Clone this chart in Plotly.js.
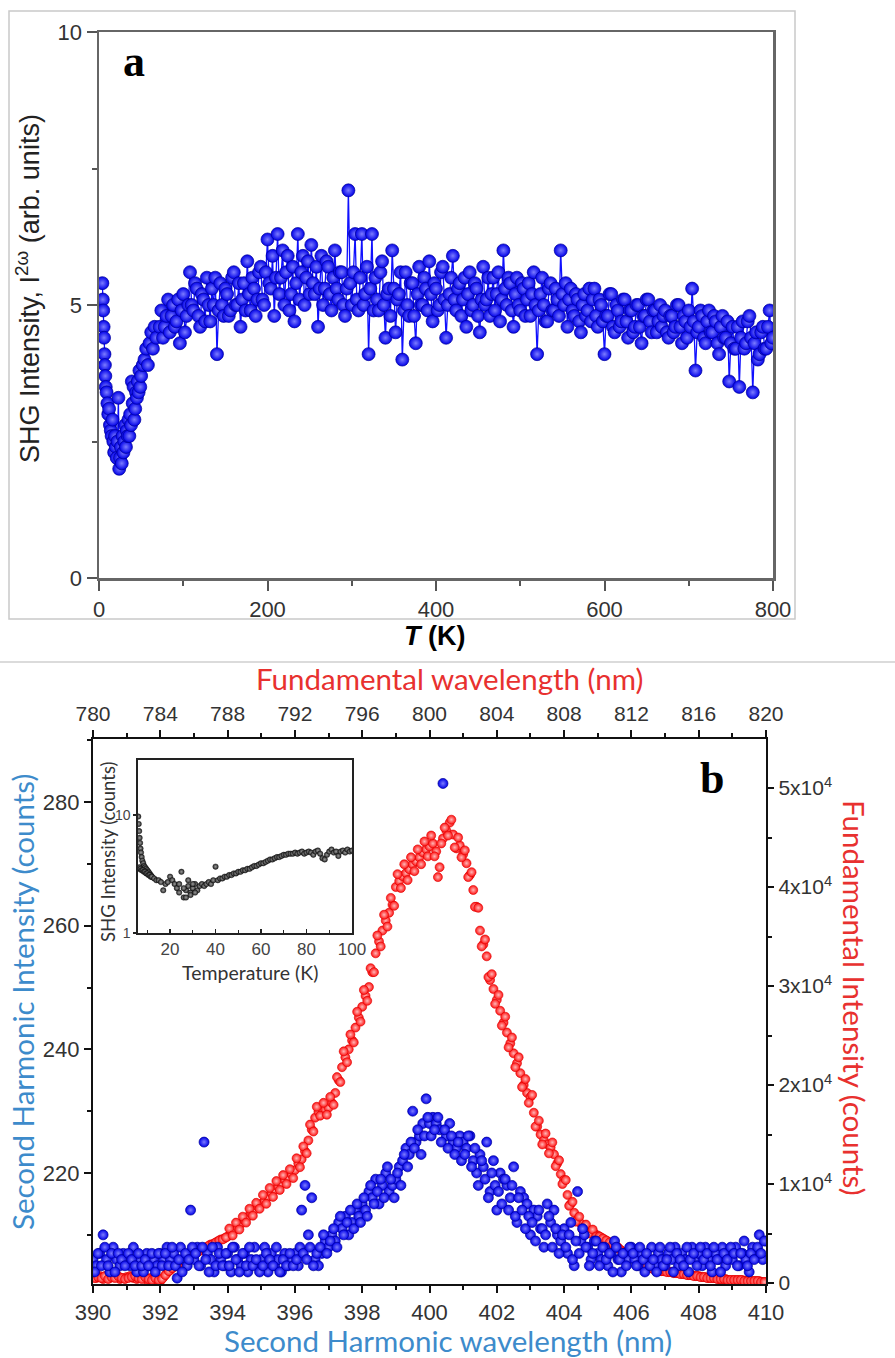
<!DOCTYPE html>
<html>
<head>
<meta charset="utf-8">
<script src="https://cdn.plot.ly/plotly-3.0.1.min.js"></script>
<style>html,body{margin:0;padding:0;background:#fff;}#chart{width:895px;height:1358px;}</style>
</head>
<body>
<div id="chart"></div>
<script>
// ---------- Panel a: SHG intensity vs temperature ----------
const tempA = [4,4.5,5,5.5,6,6.5,7,7.5,8,
  9,10,11,12,13,14,15,16,17,18,
  19,20,21,22,23,24,25,26,27,28,
  29,30,31,32,33,34,35,36,37,38,
  39,40,41,42,43,44,45,46,47,48,
  49,50,52,54,56,58,60,62,64,66,68,
  72,74,76,78,80,82,84,86,88,90,
  92,94,96,98,100,102,104,106,108,110,
  112,114,116,118,120,122,124,126,128,130,
  132,134,136,138,140,142,144,146,148,150,
  152,154,156,158,160,162,164,166,168,170,
  172,174,176,178,180,182,184,186,188,190,
  192,194,196,198,200,202,204,206,208,210,
  212,214,216,218,220,222,224,226,228,230,
  232,234,236,238,240,242,244,246,248,250,
  252,254,256,258,260,262,264,266,268,270,
  272,274,276,278,280,282,284,286,288,290,
  292,294,296,298,300,302,304,306,308,310,
  312,314,316,318,320,322,324,326,328,330,
  332,334,336,338,340,342,344,346,348,350,
  352,354,356,358,360,362,364,366,368,370,
  372,374,376,378,380,382,384,386,388,390,
  392,394,396,398,400,402,404,406,408,410,
  412,414,416,418,420,422,424,426,428,430,
  432,434,436,438,440,442,444,446,448,450,
  452,454,456,458,460,462,464,466,468,470,
  472,474,476,478,480,482,484,486,488,490,
  492,494,496,498,500,502,504,506,508,510,
  512,514,516,518,520,522,524,526,528,530,
  532,534,536,538,540,542,544,546,548,550,
  552,554,556,558,560,562,564,566,568,570,
  572,574,576,578,580,582,584,586,588,590,
  592,594,596,598,600,602,604,606,608,610,
  612,614,616,618,620,622,624,626,628,630,
  632,634,636,638,640,642,644,646,648,650,
  652,654,656,658,660,662,664,666,668,670,
  672,674,676,678,680,682,684,686,688,690,
  692,694,696,698,700,702,704,706,708,710,
  712,714,716,718,720,722,724,726,728,730,
  732,734,736,738,740,742,744,746,748,750,
  752,754,756,758,760,762,764,766,768,770,
  772,774,776,778,780,782,784,786,788,790,
  792,794,796,798,800];
const shgA = [5.4,5.1,4.9,4.6,4.4,4.1,3.9,3.7,3.5,
  3.4,3.2,3.0,3.1,2.8,2.7,2.6,2.9,2.5,2.3,
  2.6,2.4,2.2,2.5,3.3,2.0,2.2,2.4,2.1,2.6,
  2.3,2.5,2.8,2.4,2.7,2.6,2.9,2.6,3.0,2.8,
  3.6,3.2,3.5,2.9,3.1,3.4,3.3,3.6,3.4,3.8,
  3.5,3.7,3.9,4.0,4.2,3.9,4.3,4.5,4.2,4.6,4.4,
  4.6,4.9,4.4,4.6,4.8,5.1,4.5,4.8,5.0,4.6,
  4.7,5.1,4.3,4.9,5.2,4.5,4.8,5.0,5.6,5.0,
  4.9,5.4,5.3,4.8,4.6,5.2,5.1,4.7,5.5,5.0,
  4.7,5.3,5.0,5.5,4.1,4.9,5.4,5.0,4.8,5.3,
  5.2,4.8,4.9,5.5,5.6,5.0,5.0,5.4,4.6,5.1,
  5.4,4.9,5.8,5.2,4.9,5.5,5.3,4.8,5.1,5.6,
  5.7,5.1,5.0,5.6,6.2,5.4,5.3,5.9,4.8,5.5,
  6.3,5.2,5.5,6.0,5.0,5.6,5.9,4.9,5.2,5.7,
  4.7,5.4,6.3,5.1,5.6,5.9,5.0,5.5,5.8,5.2,
  6.1,5.4,5.2,5.7,4.6,5.3,5.9,5.0,5.3,5.8,
  5.7,5.2,4.9,5.5,6.0,5.3,5.1,5.6,5.6,5.0,
  4.8,5.3,7.1,5.4,5.0,5.6,6.3,5.1,4.9,5.5,
  6.3,5.0,5.2,5.7,4.1,5.3,6.3,4.9,5.5,5.1,
  4.9,5.6,5.8,5.0,4.4,5.2,5.3,4.8,6.0,5.3,
  4.5,5.1,5.2,5.6,4.0,4.9,5.6,5.0,4.8,5.4,
  5.4,4.8,4.3,5.2,5.7,5.0,5.0,5.5,5.3,4.9,
  5.8,5.2,4.7,5.4,5.3,4.9,5.0,5.6,5.7,5.1,
  4.4,5.0,5.2,5.5,5.9,5.1,4.9,5.3,5.4,4.8,
  5.1,5.5,4.6,5.2,5.6,4.9,5.0,5.4,5.3,4.8,
  4.5,5.1,5.7,5.0,5.1,5.5,4.8,5.2,5.5,4.9,
  5.2,5.6,4.7,5.1,6.0,5.3,5.0,5.5,5.4,4.9,
  4.6,5.2,5.5,5.0,4.9,5.4,5.3,4.8,5.1,5.4,
  4.8,5.2,5.6,5.0,4.1,4.9,5.2,5.5,5.0,4.7,
  4.7,5.3,5.4,4.9,4.9,5.3,5.1,4.8,6.0,5.2,
  5.0,5.4,4.6,5.1,5.3,4.9,4.8,5.2,5.1,4.7,
  4.5,5.0,5.2,4.8,4.9,5.3,4.7,5.1,5.3,4.8,
  4.6,5.1,5.0,4.7,4.1,4.8,4.8,5.2,5.2,4.6,
  4.5,5.0,4.9,4.6,4.7,5.1,5.1,4.7,4.4,4.9,
  4.9,4.5,4.6,5.0,5.0,4.6,4.3,4.8,4.8,5.1,
  5.1,4.7,4.5,4.9,4.9,4.5,4.7,5.0,4.6,4.8,
  4.9,4.5,4.4,4.8,4.8,4.5,4.6,5.0,5.0,4.6,
  4.3,4.8,4.7,4.4,4.9,4.6,5.3,4.7,3.8,4.5,
  4.6,4.9,4.8,4.4,4.3,4.7,4.9,4.5,4.5,4.8,
  4.7,4.3,4.1,4.6,4.8,4.4,4.4,4.7,3.6,4.3,
  4.6,4.2,4.2,4.6,3.5,4.4,4.7,4.2,4.3,4.7,
  4.8,4.4,3.4,4.3,4.5,4.0,4.1,4.5,4.6,4.2,
  4.2,4.6,4.9,4.3,4.4];
const aXTicks = [0,200,400,600,800];
const aYTicks = [0,5,10];

// ---------- Panel b: wavelength scans ----------
const shWavelength = [
  390.0,390.1,390.2,390.3,390.4,390.5,390.6,390.7,390.8,390.9,
  391.0,391.1,391.2,391.3,391.4,391.5,391.6,391.7,391.8,391.9,
  392.0,392.1,392.2,392.3,392.4,392.5,392.6,392.7,392.8,392.9,
  393.0,393.1,393.2,393.3,393.4,393.5,393.6,393.7,393.8,393.9,
  394.0,394.1,394.2,394.3,394.4,394.5,394.6,394.7,394.8,394.9,
  395.0,395.1,395.2,395.3,395.4,395.5,395.6,395.7,395.8,395.9,
  396.0,396.1,396.2,396.3,396.4,396.5,396.6,396.7,396.8,396.9,
  397.0,397.1,397.2,397.3,397.4,397.5,397.6,397.7,397.8,397.9,
  398.0,398.1,398.2,398.3,398.4,398.5,398.6,398.7,398.8,398.9,
  399.0,399.1,399.2,399.3,399.4,399.5,399.6,399.7,399.8,399.9,
  400.0,400.1,400.2,400.3,400.4,400.5,400.6,400.7,400.8,400.9,
  401.0,401.1,401.2,401.3,401.4,401.5,401.6,401.7,401.8,401.9,
  402.0,402.1,402.2,402.3,402.4,402.5,402.6,402.7,402.8,402.9,
  403.0,403.1,403.2,403.3,403.4,403.5,403.6,403.7,403.8,403.9,
  404.0,404.1,404.2,404.3,404.4,404.5,404.6,404.7,404.8,404.9,
  405.0,405.1,405.2,405.3,405.4,405.5,405.6,405.7,405.8,405.9,
  406.0,406.1,406.2,406.3,406.4,406.5,406.6,406.7,406.8,406.9,
  407.0,407.1,407.2,407.3,407.4,407.5,407.6,407.7,407.8,407.9,
  408.0,408.1,408.2,408.3,408.4,408.5,408.6,408.7,408.8,408.9,
  409.0,409.1,409.2,409.3,409.4,409.5,409.6,409.7,409.8,409.9,
  410.0];
const shIntensity = [
  206,205,207,210,206,204,208,206,205,207,
  206,205,208,204,206,204,207,205,206,205,
  207,206,208,206,207,203,208,206,205,214,
  206,208,205,225,207,206,204,208,206,205,
  207,204,208,206,205,207,204,206,208,205,
  206,208,204,207,205,206,204,207,205,206,
  207,205,214,218,210,216,206,205,207,209,
  208,210,209,212,211,213,210,212,214,213,
  215,214,217,216,219,215,218,220,217,218,
  219,221,222,224,223,230,225,226,228,232,
  228,229,228,227,283,226,228,225,224,226,
  225,224,226,222,220,223,221,225,217,222,
  214,220,219,218,216,221,212,217,216,215,
  210,214,213,211,208,215,212,214,210,209,
  211,207,212,205,217,209,210,208,206,209,
  207,206,208,205,207,209,206,204,207,206,
  208,206,205,207,204,206,208,205,207,206,
  205,207,206,208,205,207,206,204,208,206,
  207,205,208,206,204,207,206,208,205,207,
  206,208,205,207,206,204,208,207,210,206,
  209];
// second read-out of the SH scan (interleaved wavelengths)
const shWavelengthB = [
  390.05,390.15,390.25,390.35,390.45,390.55,390.65,390.75,390.85,390.95,
  391.05,391.15,391.25,391.35,391.45,391.55,391.65,391.75,391.85,391.95,
  392.05,392.15,392.25,392.35,392.45,392.55,392.65,392.75,392.85,392.95,
  393.05,393.15,393.25,393.35,393.45,393.55,393.65,393.75,393.85,393.95,
  394.05,394.15,394.25,394.35,394.45,394.55,394.65,394.75,394.85,394.95,
  395.05,395.15,395.25,395.35,395.45,395.55,395.65,395.75,395.85,395.95,
  396.05,396.15,396.25,396.35,396.45,396.55,396.65,396.75,396.85,396.95,
  397.05,397.15,397.25,397.35,397.45,397.55,397.65,397.75,397.85,397.95,
  398.05,398.15,398.25,398.35,398.45,398.55,398.65,398.75,398.85,398.95,
  399.05,399.15,399.25,399.35,399.45,399.55,399.65,399.75,399.85,399.95,
  400.05,400.15,400.25,400.35,400.45,400.55,400.65,400.75,400.85,400.95,
  401.05,401.15,401.25,401.35,401.45,401.55,401.65,401.75,401.85,401.95,
  402.05,402.15,402.25,402.35,402.45,402.55,402.65,402.75,402.85,402.95,
  403.05,403.15,403.25,403.35,403.45,403.55,403.65,403.75,403.85,403.95,
  404.05,404.15,404.25,404.35,404.45,404.55,404.65,404.75,404.85,404.95,
  405.05,405.15,405.25,405.35,405.45,405.55,405.65,405.75,405.85,405.95,
  406.05,406.15,406.25,406.35,406.45,406.55,406.65,406.75,406.85,406.95,
  407.05,407.15,407.25,407.35,407.45,407.55,407.65,407.75,407.85,407.95,
  408.05,408.15,408.25,408.35,408.45,408.55,408.65,408.75,408.85,408.95,
  409.05,409.15,409.25,409.35,409.45,409.55,409.65,409.75,409.85,409.95];
const shIntensityB = [
  204,207,205,208,205,207,204,207,206,205,
  207,206,205,207,205,206,205,207,204,207,
  205,207,205,208,205,206,204,207,206,208,
  207,205,208,206,204,208,205,207,205,207,
  205,208,206,204,207,205,208,205,206,204,
  205,207,206,205,208,204,206,205,207,205,
  206,208,207,206,208,205,207,208,210,207,
  209,211,208,213,210,212,214,211,215,212,
  216,213,218,215,217,219,216,221,219,216,
  220,218,223,221,225,224,227,223,226,229,
  226,227,229,225,227,224,226,223,225,222,
  223,226,221,224,218,222,219,216,220,218,
  217,215,219,214,218,213,216,214,211,213,
  212,209,214,211,210,213,208,211,207,210,
  208,210,206,209,207,211,208,205,207,209,
  205,208,206,207,204,208,206,207,205,208,
  207,205,208,206,207,205,206,204,208,205,
  206,208,204,207,206,205,208,206,207,205,
  208,206,207,205,208,206,204,207,206,208,
  207,205,207,209,205,207,206,208,207,209];
const fundWavelength = [
  780.0,780.2,780.4,780.6,780.8,781.0,781.2,781.4,781.6,781.8,
  782.0,782.2,782.4,782.6,782.8,783.0,783.2,783.4,783.6,783.8,
  784.0,784.2,784.4,784.6,784.8,785.0,785.2,785.4,785.6,785.8,
  786.0,786.2,786.4,786.6,786.8,787.0,787.2,787.4,787.6,787.8,
  788.0,788.2,788.4,788.6,788.8,789.0,789.2,789.4,789.6,789.8,
  790.0,790.2,790.4,790.6,790.8,791.0,791.2,791.4,791.6,791.8,
  792.0,792.2,792.4,792.6,792.8,793.0,793.2,793.4,793.6,793.8,
  794.0,794.2,794.4,794.6,794.8,795.0,795.2,795.4,795.6,795.8,
  796.0,796.2,796.4,796.6,796.8,797.0,797.2,797.4,797.6,797.8,
  798.0,798.2,798.4,798.6,798.8,799.0,799.2,799.4,799.6,799.8,
  800.0,800.2,800.4,800.6,800.8,801.0,801.2,801.4,801.6,801.8,
  802.0,802.2,802.4,802.6,802.8,803.0,803.2,803.4,803.6,803.8,
  804.0,804.2,804.4,804.6,804.8,805.0,805.2,805.4,805.6,805.8,
  806.0,806.2,806.4,806.6,806.8,807.0,807.2,807.4,807.6,807.8,
  808.0,808.2,808.4,808.6,808.8,809.0,809.2,809.4,809.6,809.8,
  810.0,810.2,810.4,810.6,810.8,811.0,811.2,811.4,811.6,811.8,
  812.0,812.2,812.4,812.6,812.8,813.0,813.2,813.4,813.6,813.8,
  814.0,814.2,814.4,814.6,814.8,815.0,815.2,815.4,815.6,815.8,
  816.0,816.2,816.4,816.6,816.8,817.0,817.2,817.4,817.6,817.8,
  818.0,818.2,818.4,818.6,818.8,819.0,819.2,819.4,819.6,819.8,
  820.0];
const fundIntensity = [
  600,500,700,400,600,500,700,600,400,500,
  600,700,500,400,600,500,300,500,400,300,
  200,600,1000,1300,1600,1900,2200,2400,2500,2800,
  3000,3100,3300,3500,3600,3900,4000,4200,4400,4500,
  4700,5000,5300,5600,6000,6300,6700,7000,7400,7700,
  8000,8300,8700,9100,9400,9700,10000,10400,10600,11000,
  11400,12100,12500,13300,14400,15500,16700,17300,17600,17500,
  17700,18200,19200,20500,21800,22800,23600,24500,25800,26800,
  27900,29000,29900,31400,33300,34500,35600,36600,37400,38200,
  40000,40600,41100,41400,41800,42300,42600,43000,43500,43800,
  44100,44400,43600,42000,44900,45700,46500,45300,43900,44200,
  43300,42400,41200,39700,38000,35600,34200,33000,30600,29700,
  28600,27500,26300,25300,24200,23200,22200,21200,20000,19200,
  18800,17200,15800,15000,14400,14000,13700,13000,12100,11000,
  10400,8900,8000,7100,6400,6000,5700,5400,5200,5000,
  4800,4600,4400,4200,4000,3800,3600,3300,3000,2800,
  2600,2400,2200,2000,1800,1600,1500,1400,1300,1200,
  1200,1100,1100,1000,1000,900,900,800,800,700,
  700,600,600,500,500,500,400,400,400,300,
  300,300,300,300,200,200,200,200,200,100,
  100];
// second read-out of the fundamental scan (interleaved wavelengths)
const fundWavelengthB = [
  780.1,780.3,780.5,780.7,780.9,781.1,781.3,781.5,781.7,781.9,
  782.1,782.3,782.5,782.7,782.9,783.1,783.3,783.5,783.7,783.9,
  784.1,784.3,784.5,784.7,784.9,785.1,785.3,785.5,785.7,785.9,
  786.1,786.3,786.5,786.7,786.9,787.1,787.3,787.5,787.7,787.9,
  788.1,788.3,788.5,788.7,788.9,789.1,789.3,789.5,789.7,789.9,
  790.1,790.3,790.5,790.7,790.9,791.1,791.3,791.5,791.7,791.9,
  792.1,792.3,792.5,792.7,792.9,793.1,793.3,793.5,793.7,793.9,
  794.1,794.3,794.5,794.7,794.9,795.1,795.3,795.5,795.7,795.9,
  796.1,796.3,796.5,796.7,796.9,797.1,797.3,797.5,797.7,797.9,
  798.1,798.3,798.5,798.7,798.9,799.1,799.3,799.5,799.7,799.9,
  800.1,800.3,800.5,800.7,800.9,801.1,801.3,801.5,801.7,801.9,
  802.1,802.3,802.5,802.7,802.9,803.1,803.3,803.5,803.7,803.9,
  804.1,804.3,804.5,804.7,804.9,805.1,805.3,805.5,805.7,805.9,
  806.1,806.3,806.5,806.7,806.9,807.1,807.3,807.5,807.7,807.9,
  808.1,808.3,808.5,808.7,808.9,809.1,809.3,809.5,809.7,809.9,
  810.1,810.3,810.5,810.7,810.9,811.1,811.3,811.5,811.7,811.9,
  812.1,812.3,812.5,812.7,812.9,813.1,813.3,813.5,813.7,813.9,
  814.1,814.3,814.5,814.7,814.9,815.1,815.3,815.5,815.7,815.9,
  816.1,816.3,816.5,816.7,816.9,817.1,817.3,817.5,817.7,817.9,
  818.1,818.3,818.5,818.7,818.9,819.1,819.3,819.5,819.7,819.9];
const fundIntensityB = [
  500,600,500,700,400,600,500,700,500,400,
  500,600,700,500,400,600,400,300,500,300,
  400,800,1200,1500,1800,2000,2300,2500,2700,2900,
  3100,3200,3500,3600,3800,3900,4100,4300,4400,4600,
  5500,4800,6100,5400,6700,6100,7500,6800,8100,7500,
  8900,8000,9600,8700,10300,9400,10900,10000,11500,10600,
  12600,11700,13800,13100,16000,15300,17800,16900,18200,17000,
  18800,18000,20800,20300,23400,22300,25100,24300,27400,26400,
  29600,28500,31800,31400,35100,34000,37200,36000,38900,38100,
  41300,39900,42300,40700,43000,41600,43800,42300,44600,43100,
  45200,43100,41000,44400,46000,45200,46800,44000,45000,43000,
  43700,41000,41500,38000,37900,34000,34700,30900,31200,28200,
  29100,26000,26900,23800,24800,21800,22800,19800,20600,18200,
  19000,15800,16400,14000,15100,13100,14200,11800,12400,10000,
  10400,7800,8200,6200,6700,5400,5900,5000,5400,4700,
  4700,4500,4300,4100,3900,3700,3400,3100,2900,2700,
  2500,2300,2100,1900,1700,1500,1400,1300,1200,1200,
  1100,1100,1000,1000,900,900,800,800,700,700,
  600,600,500,500,500,400,400,400,300,300,
  300,300,300,200,200,200,200,200,100,100];
const bBottomTicks = [390,392,394,396,398,400,402,404,406,408,410];
const bTopTicks = [780,784,788,792,796,800,804,808,812,816,820];
const bLeftTicks = [220,240,260,280];
const bRightTicks = [0,10000,20000,30000,40000,50000];
const bRightLabels = ['0','1x10<sup>4</sup>','2x10<sup>4</sup>','3x10<sup>4</sup>','4x10<sup>4</sup>','5x10<sup>4</sup>'];

// ---------- Inset: SHG vs temperature (log) ----------
const insetT = [6,6.2,6.4,6.6,6.8,7,7.2,7.5,7.8,8.2,8.6,9,9.5,10,10.5,11,11.5,12,
  6,6.5,7,7.5,8,8.5,9,9.5,10,10.5,11,11.5,12,
  13,14,15,16,17,18,19,20,21,22,
  23,24,25,26,27,28,29,30,31,32,
  33,34,35,36,37,38,39,40,41,42,
  43,44,45,46,47,48,49,50,51,52,
  53,54,55,56,57,58,59,60,61,62,
  63,64,65,66,67,68,69,70,71,72,
  73,74,75,76,77,78,79,80,81,82,
  83,84,85,86,87,88,89,90,91,92,
  93,94,95,96,97,98,99,100,
  24,26,27,28,29,30,31];
const insetSHG = [9.7,8.4,7.3,6.4,5.8,5.2,4.8,4.4,4.1,3.9,3.7,3.6,3.5,3.4,3.3,3.2,3.1,3.0,
  3.5,3.6,3.5,3.4,3.4,3.3,3.3,3.2,3.2,3.1,3.1,3.0,3.0,
  2.9,2.8,2.8,2.7,2.3,2.6,2.7,3.0,2.8,2.6,
  2.4,2.2,3.3,2.0,2.3,2.5,2.2,2.4,2.6,2.3,
  2.5,2.6,2.5,2.6,2.7,2.6,2.8,3.65,2.8,2.9,
  2.9,3.0,3.0,3.1,3.1,3.2,3.2,3.3,3.3,3.4,
  3.4,3.5,3.5,3.6,3.7,3.7,3.8,3.9,3.9,4.0,
  4.1,4.2,4.2,4.3,4.4,4.4,4.5,4.6,4.6,4.7,
  4.7,4.7,4.8,4.7,4.8,4.9,4.7,4.8,4.9,4.8,
  4.6,4.9,5.0,4.7,4.3,4.2,4.6,4.9,5.1,4.8,
  4.9,4.5,4.9,5.0,4.8,5.1,4.9,5.0,
  2.6,2.4,2.0,2.8,2.1,2.6,2.2];
const insetXTicks = [20,40,60,80,100];
const insetYTicks = [1,10];

// ---------- drawing ----------
const W = 895, H = 1358;
const px = v => v / W;          // pixel -> paper helpers for layout placement
const py = v => 1 - v / H;

const arial = 'Liberation Sans, Arial, sans-serif';
const sans = 'Lato, Open Sans, sans-serif';
const redTitle = '#e8312f';
const blueTitle = '#3d8bcb';

const blueMarker = (s) => ({size: s, color: '#0000e8', line: {color: '#00009a', width: 0.7},
                            gradient: {type: 'radial', color: '#7c7cff'}});
const redMarker = {size: 9, color: '#ff1212', line: {color: '#dd0000', width: 0.6},
                   gradient: {type: 'radial', color: '#ffb8b8'}};

const traces = [
  {x: tempA, y: shgA, xaxis: 'x', yaxis: 'y', mode: 'lines+markers', type: 'scatter',
   line: {color: '#1010ff', width: 1.3}, marker: blueMarker(13)},
  {x: fundWavelength.concat(fundWavelengthB), y: fundIntensity.concat(fundIntensityB),
   xaxis: 'x3', yaxis: 'y3', mode: 'markers', type: 'scatter', marker: redMarker},
  {x: shWavelength.concat(shWavelengthB), y: shIntensity.concat(shIntensityB),
   xaxis: 'x2', yaxis: 'y2', mode: 'markers', type: 'scatter', marker: blueMarker(10)},
  {x: insetT, y: insetSHG, xaxis: 'x4', yaxis: 'y4', mode: 'markers', type: 'scatter',
   marker: {size: 5.5, color: '#2a2a2a', line: {color: '#000', width: 0.4},
            gradient: {type: 'radial', color: '#9a9a9a'}}}
];

const common = {showgrid: false, zeroline: false, automargin: false, fixedrange: true};

const layout = {
  width: W, height: H,
  margin: {l: 0, r: 0, t: 0, b: 0},
  paper_bgcolor: '#ffffff', plot_bgcolor: 'rgba(0,0,0,0)',
  showlegend: false,
  // panel a
  xaxis: Object.assign({}, common, {
    domain: [px(99), px(773)], anchor: 'y', range: [0, 800],
    tickmode: 'array', tickvals: aXTicks,
    ticks: 'outside', ticklen: 10, tickwidth: 2, tickcolor: '#555',
    linecolor: '#666', linewidth: 2.5, mirror: true,
    tickfont: {family: arial, size: 22, color: '#333'},
    minor: {ticks: 'outside', ticklen: 5, tickwidth: 2, tickcolor: '#555', dtick: 100, tick0: 0, showgrid: false}
  }),
  yaxis: Object.assign({}, common, {
    domain: [py(578), py(32)], anchor: 'x', range: [0, 10],
    tickmode: 'array', tickvals: aYTicks,
    ticks: 'outside', ticklen: 10, tickwidth: 2, tickcolor: '#555',
    linecolor: '#666', linewidth: 2.5, mirror: true,
    tickfont: {family: arial, size: 22, color: '#333'},
    minor: {ticks: 'outside', ticklen: 5, tickwidth: 2, tickcolor: '#555', dtick: 2.5, tick0: 0, showgrid: false}
  }),
  // panel b base (top fundamental axis + right axis)
  xaxis3: Object.assign({}, common, {
    domain: [px(93), px(766)], anchor: 'y3', side: 'top', range: [780, 820],
    tickmode: 'array', tickvals: bTopTicks,
    ticks: 'outside', ticklen: 7, tickwidth: 2, tickcolor: '#111',
    linecolor: '#111', linewidth: 2.2,
    tickfont: {family: arial, size: 21, color: '#333'},
    minor: {ticks: 'outside', ticklen: 4, tickwidth: 2, tickcolor: '#111', dtick: 2, tick0: 780, showgrid: false}
  }),
  yaxis3: Object.assign({}, common, {
    domain: [py(1284), py(739)], anchor: 'x3', side: 'right', range: [-100, 54950],
    tickmode: 'array', tickvals: bRightTicks, ticktext: bRightLabels,
    ticks: 'outside', ticklen: 6, tickwidth: 2, tickcolor: '#111',
    linecolor: '#111', linewidth: 2.2,
    tickfont: {family: arial, size: 21, color: '#333'},
    minor: {ticks: 'outside', ticklen: 4, tickwidth: 2, tickcolor: '#111', dtick: 5000, tick0: 0, showgrid: false}
  }),
  // panel b overlay (bottom SH axis + left axis)
  xaxis2: Object.assign({}, common, {
    overlaying: 'x3', anchor: 'y2', side: 'bottom', range: [390, 410],
    tickmode: 'array', tickvals: bBottomTicks,
    ticks: 'outside', ticklen: 7, tickwidth: 2, tickcolor: '#111',
    linecolor: '#111', linewidth: 2.2,
    tickfont: {family: arial, size: 22, color: '#333'},
    minor: {ticks: 'outside', ticklen: 4, tickwidth: 2, tickcolor: '#111', dtick: 1, tick0: 390, showgrid: false}
  }),
  yaxis2: Object.assign({}, common, {
    overlaying: 'y3', anchor: 'x2', side: 'left', range: [202.05, 290.19],
    tickmode: 'array', tickvals: bLeftTicks,
    ticks: 'outside', ticklen: 7, tickwidth: 2, tickcolor: '#111',
    linecolor: '#111', linewidth: 2.2,
    tickfont: {family: arial, size: 22, color: '#333'},
    minor: {ticks: 'outside', ticklen: 4, tickwidth: 2, tickcolor: '#111', dtick: 10, tick0: 200, showgrid: false}
  }),
  // inset
  xaxis4: Object.assign({}, common, {
    domain: [px(138), px(352)], anchor: 'y4', range: [5.9, 100],
    tickmode: 'array', tickvals: insetXTicks,
    ticks: 'inside', ticklen: 4, tickwidth: 1.5, tickcolor: '#222',
    linecolor: '#222', linewidth: 1.6, mirror: true,
    tickfont: {family: arial, size: 17, color: '#444'},
    minor: {ticks: 'inside', ticklen: 3, tickwidth: 1.2, tickcolor: '#222', dtick: 10, tick0: 0, showgrid: false}
  }),
  yaxis4: Object.assign({}, common, {
    domain: [py(933), py(760)], anchor: 'x4', type: 'log', range: [0, 1.466],
    tickmode: 'array', tickvals: insetYTicks, ticktext: ['1', '10'],
    ticks: 'outside', ticklen: 3, tickwidth: 1.5, tickcolor: '#222',
    linecolor: '#222', linewidth: 1.6, mirror: true,
    tickfont: {family: arial, size: 14, color: '#444'}
  }),
  shapes: [
    {type: 'rect', xref: 'paper', yref: 'paper', x0: px(9), x1: px(795), y0: py(619), y1: py(11),
     line: {color: '#c9c9c9', width: 1.5}, fillcolor: 'rgba(0,0,0,0)', layer: 'below'},
    {type: 'line', xref: 'paper', yref: 'paper', x0: 0, x1: 1, y0: py(662), y1: py(662),
     line: {color: '#cfcfcf', width: 1.5}}
  ],
  annotations: [
    {text: '<b>a</b>', x: px(134), y: py(62)},
    {text: '<b>b</b>', x: px(712), y: py(778)},
    {text: 'SHG Intensity, I<sup>2ω</sup> (arb. units)', x: px(28), y: py(289), textangle: -90,
     font: {family: arial, size: 27, color: '#222'}},
    {text: '<b><i>T</i> (K)</b>', x: px(434), y: py(636), font: {family: arial, size: 27, color: '#000'}},
    {text: 'Fundamental wavelength (nm)', x: px(449), y: py(678), font: {family: sans, size: 29.5, color: redTitle}},
    {text: 'Second Harmonic wavelength (nm)', x: px(448), y: py(1340), font: {family: sans, size: 29.5, color: blueTitle}},
    {text: 'Second Harmonic Intensity (counts)', x: px(22), y: py(1002), textangle: -90,
     font: {family: sans, size: 29.5, color: blueTitle}},
    {text: 'Fundamental Intensity (counts)', x: px(855), y: py(998), textangle: 90,
     font: {family: sans, size: 29.5, color: redTitle}},
    {text: 'SHG Intensity (counts)', x: px(108), y: py(852), textangle: -90,
     font: {family: sans, size: 18.5, color: '#333'}},
    {text: 'Temperature (K)', x: px(250), y: py(972), font: {family: sans, size: 19.5, color: '#333'}}
  ].map(a => Object.assign({xref: 'paper', yref: 'paper', showarrow: false, xanchor: 'center', yanchor: 'middle',
    font: {family: 'Liberation Serif, Times New Roman, serif', size: 44, color: '#000'}}, a))
};

Plotly.newPlot('chart', traces, layout, {displayModeBar: false, staticPlot: true});
</script>
</body>
</html>
